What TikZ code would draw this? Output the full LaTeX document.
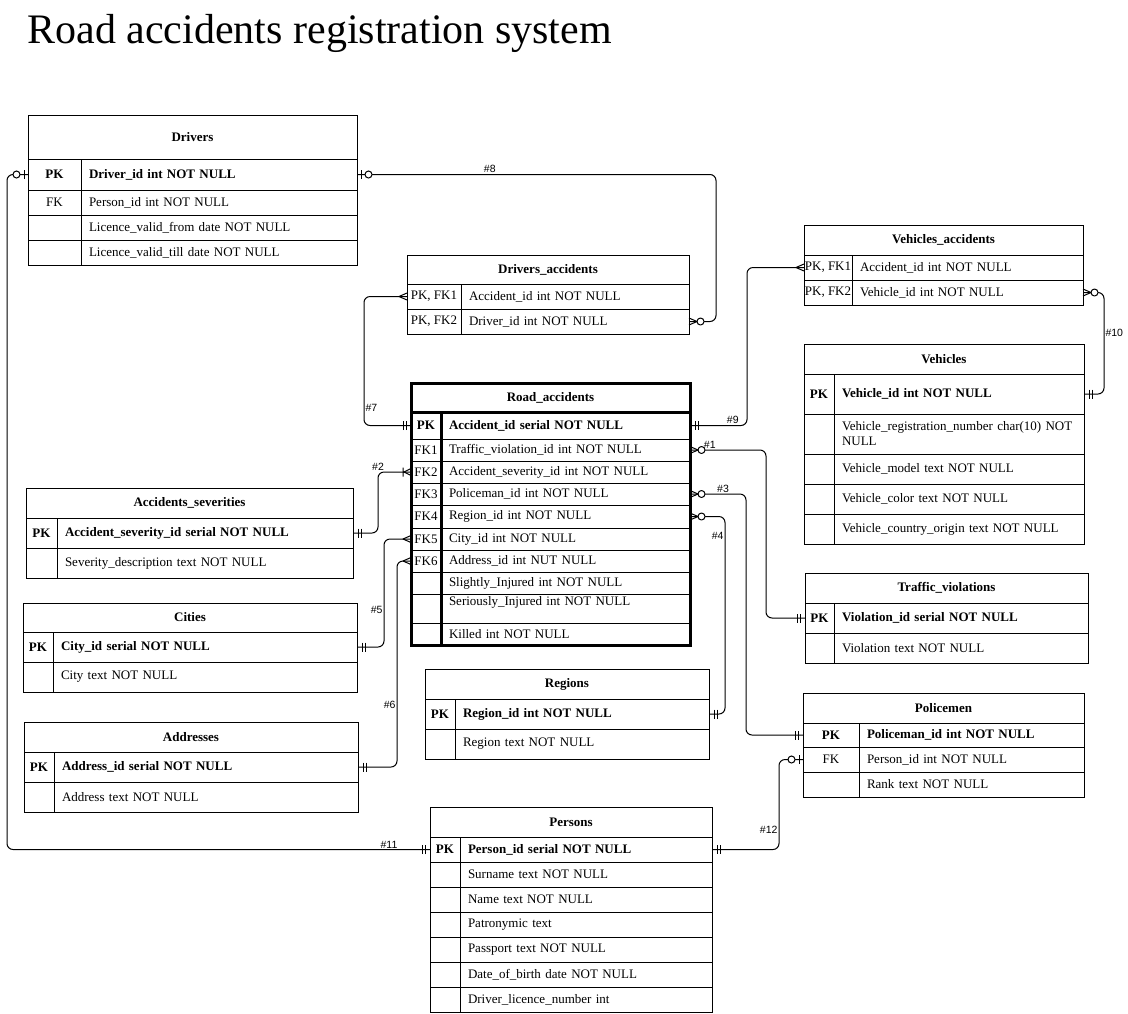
\documentclass[tikz,border=0pt]{standalone}
\usepackage{fontspec}
\setmainfont{Liberation Serif}
\newfontfamily\lblfont{Liberation Sans}
\usetikzlibrary{positioning}

\pgfdeclarearrow{
  name = erOne,
  setup code = {
    \pgfarrowssettipend{0pt}
    \pgfarrowssetlineend{0pt}
    \pgfarrowssetbackend{-10pt}
    \pgfarrowssetvisualbackend{-10pt}
    \pgfarrowshullpoint{0pt}{5pt}
    \pgfarrowshullpoint{-10pt}{5pt}
    \pgfarrowshullpoint{-10pt}{-5pt}
    \pgfarrowshullpoint{0pt}{-5pt}
  },
  drawing code = {
    \pgfpathmoveto{\pgfqpoint{-5pt}{-4.5pt}}
    \pgfpathlineto{\pgfqpoint{-5pt}{4.5pt}}
    \pgfpathmoveto{\pgfqpoint{-8pt}{-4.5pt}}
    \pgfpathlineto{\pgfqpoint{-8pt}{4.5pt}}
    \pgfusepathqstroke
  }
}
\pgfdeclarearrow{
  name = erZeroOne,
  setup code = {
    \pgfarrowssettipend{0pt}
    \pgfarrowssetlineend{0pt}
    \pgfarrowssetbackend{-16pt}
    \pgfarrowssetvisualbackend{-16pt}
    \pgfarrowshullpoint{0pt}{5pt}
    \pgfarrowshullpoint{-16pt}{5pt}
    \pgfarrowshullpoint{-16pt}{-5pt}
    \pgfarrowshullpoint{0pt}{-5pt}
  },
  drawing code = {
    \pgfpathmoveto{\pgfqpoint{-4pt}{-4.5pt}}
    \pgfpathlineto{\pgfqpoint{-4pt}{4.5pt}}
    \pgfusepathqstroke
    \pgfpathcircle{\pgfqpoint{-11.5pt}{0pt}}{3.5pt}
    \pgfsetfillcolor{white}
    \pgfusepathqfillstroke
  }
}
\pgfdeclarearrow{
  name = erMany,
  setup code = {
    \pgfarrowssettipend{0pt}
    \pgfarrowssetlineend{0pt}
    \pgfarrowssetbackend{-8pt}
    \pgfarrowssetvisualbackend{-8pt}
    \pgfarrowshullpoint{0pt}{4pt}
    \pgfarrowshullpoint{-8pt}{0pt}
    \pgfarrowshullpoint{0pt}{-4pt}
  },
  drawing code = {
    \pgfsetroundjoin
    \pgfpathmoveto{\pgfqpoint{0pt}{3.5pt}}
    \pgfpathlineto{\pgfqpoint{-8pt}{0pt}}
    \pgfpathlineto{\pgfqpoint{0pt}{-3.5pt}}
    \pgfusepathqstroke
  }
}
\pgfdeclarearrow{
  name = erZeroMany,
  setup code = {
    \pgfarrowssettipend{0pt}
    \pgfarrowssetlineend{0pt}
    \pgfarrowssetbackend{-16pt}
    \pgfarrowssetvisualbackend{-16pt}
    \pgfarrowshullpoint{0pt}{4pt}
    \pgfarrowshullpoint{-16pt}{4pt}
    \pgfarrowshullpoint{-16pt}{-4pt}
    \pgfarrowshullpoint{0pt}{-4pt}
  },
  drawing code = {
    \pgfsetroundjoin
    \pgfpathmoveto{\pgfqpoint{0pt}{3.5pt}}
    \pgfpathlineto{\pgfqpoint{-8pt}{0pt}}
    \pgfpathlineto{\pgfqpoint{0pt}{-3.5pt}}
    \pgfusepathqstroke
    \pgfpathcircle{\pgfqpoint{-11.5pt}{0pt}}{3.5pt}
    \pgfsetfillcolor{white}
    \pgfusepathqfillstroke
  }
}
\pgfdeclarearrow{
  name = erOneMany,
  setup code = {
    \pgfarrowssettipend{0pt}
    \pgfarrowssetlineend{0pt}
    \pgfarrowssetbackend{-10pt}
    \pgfarrowssetvisualbackend{-10pt}
    \pgfarrowshullpoint{0pt}{5pt}
    \pgfarrowshullpoint{-10pt}{5pt}
    \pgfarrowshullpoint{-10pt}{-5pt}
    \pgfarrowshullpoint{0pt}{-5pt}
  },
  drawing code = {
    \pgfsetroundjoin
    \pgfpathmoveto{\pgfqpoint{0pt}{3.5pt}}
    \pgfpathlineto{\pgfqpoint{-7pt}{0pt}}
    \pgfpathlineto{\pgfqpoint{0pt}{-3.5pt}}
    \pgfpathmoveto{\pgfqpoint{-8pt}{-4.5pt}}
    \pgfpathlineto{\pgfqpoint{-8pt}{4.5pt}}
    \pgfusepathqstroke
  }
}

\tikzset{
  thead/.style={draw, anchor=north west, inner sep=0pt, outer sep=0pt, font=\fontsize{13}{15}\selectfont\bfseries},
  kcell/.style={draw, inner sep=0pt, outer sep=0pt, align=center},
  fcell/.style={draw, inner xsep=8pt, inner ysep=0pt, outer sep=0pt, align=left},
  kc/.style 2 args={kcell, minimum width=#1, minimum height=#2},
  fc/.style 2 args={fcell, text width=#1, minimum height=#2},
  thickb/.style={line width=3pt},
  rel/.style={rounded corners=6pt},
  lbl/.style={font=\lblfont\fontsize{10.5}{12}\selectfont, inner sep=1pt},
}

\begin{document}
\begin{tikzpicture}[x=1pt, y=-1pt, line width=1pt, font=\fontsize{13}{15}\selectfont]
      \useasboundingbox (0,0) rectangle (1128,1013);
      \node[anchor=base west, inner sep=0pt, font=\fontsize{42}{48}\selectfont] (title) at (27,43) {Road accidents registration system};

      \node[thead, minimum width=329pt, minimum height=44pt] (drv) at (28,115) {Drivers};
      \node[kc={53pt}{31pt}, below right=0pt of drv.south west] (drvK1) {\textbf{PK}};
      \node[fc={260pt}{31pt}, right=0pt of drvK1] (drvF1) {\textbf{Driver\_id int NOT NULL}};
      \node[kc={53pt}{25pt}, below=0pt of drvK1] (drvK2) {FK};
      \node[fc={260pt}{25pt}, right=0pt of drvK2] (drvF2) {Person\_id int NOT NULL};
      \node[kc={53pt}{25pt}, below=0pt of drvK2] (drvK3) {};
      \node[fc={260pt}{25pt}, right=0pt of drvK3] (drvF3) {Licence\_valid\_from date NOT NULL};
      \node[kc={53pt}{25pt}, below=0pt of drvK3] (drvK4) {};
      \node[fc={260pt}{25pt}, right=0pt of drvK4] (drvF4) {Licence\_valid\_till date NOT NULL};

      \node[thead, minimum width=282pt, minimum height=29pt] (da) at (407,255) {Drivers\_accidents};
      \node[kc={54pt}{25pt}, below right=0pt of da.south west] (daK1) {PK, FK1};
      \node[fc={212pt}{25pt}, right=0pt of daK1] (daF1) {Accident\_id int NOT NULL};
      \node[kc={54pt}{25pt}, below=0pt of daK1] (daK2) {PK, FK2};
      \node[fc={212pt}{25pt}, right=0pt of daK2] (daF2) {Driver\_id int NOT NULL};

      \node[thead, minimum width=279pt, minimum height=29pt] (ra) at (411,383) {Road\_accidents};
      \node[kc={30pt}{27pt}, below right=0pt of ra.south west] (raK1) {\textbf{PK}};
      \node[fc={233pt}{27pt}, right=0pt of raK1] (raF1) {\textbf{Accident\_id serial NOT NULL}};
      \node[kc={30pt}{22pt}, below=0pt of raK1] (raK2) {FK1};
      \node[fc={233pt}{22pt}, right=0pt of raK2] (raF2) {Traffic\_violation\_id int NOT NULL};
      \node[kc={30pt}{22pt}, below=0pt of raK2] (raK3) {FK2};
      \node[fc={233pt}{22pt}, right=0pt of raK3] (raF3) {Accident\_severity\_id int NOT NULL};
      \node[kc={30pt}{22pt}, below=0pt of raK3] (raK4) {FK3};
      \node[fc={233pt}{22pt}, right=0pt of raK4] (raF4) {Policeman\_id int NOT NULL};
      \node[kc={30pt}{23pt}, below=0pt of raK4] (raK5) {FK4};
      \node[fc={233pt}{23pt}, right=0pt of raK5] (raF5) {Region\_id int NOT NULL};
      \node[kc={30pt}{22pt}, below=0pt of raK5] (raK6) {FK5};
      \node[fc={233pt}{22pt}, right=0pt of raK6] (raF6) {City\_id int NOT NULL};
      \node[kc={30pt}{22pt}, below=0pt of raK6] (raK7) {FK6};
      \node[fc={233pt}{22pt}, right=0pt of raK7] (raF7) {Address\_id int NUT NULL};
      \node[kc={30pt}{22pt}, below=0pt of raK7] (raK8) {};
      \node[fc={233pt}{22pt}, right=0pt of raK8] (raF8) {Slightly\_Injured int NOT NULL};
      \node[kc={30pt}{29pt}, below=0pt of raK8] (raK9) {};
      \node[fc={233pt}{29pt}, text height=11pt, text depth=18pt, right=0pt of raK9] (raF9) {Seriously\_Injured int NOT NULL};
      \node[kc={30pt}{22pt}, below=0pt of raK9] (raK10) {};
      \node[fc={233pt}{22pt}, right=0pt of raK10] (raF10) {Killed int NOT NULL};
      \draw[thickb] (ra.north west) rectangle (raF10.south east);
      \draw[thickb] (ra.south west) -- (ra.south east);
      \draw[thickb] (raK1.north east) -- (raK10.south east);

      \node[thead, minimum width=279pt, minimum height=30pt] (va) at (804,225) {Vehicles\_accidents};
      \node[kc={48pt}{25pt}, below right=0pt of va.south west] (vaK1) {PK, FK1};
      \node[fc={215pt}{25pt}, right=0pt of vaK1] (vaF1) {Accident\_id int NOT NULL};
      \node[kc={48pt}{25pt}, below=0pt of vaK1] (vaK2) {PK, FK2};
      \node[fc={215pt}{25pt}, right=0pt of vaK2] (vaF2) {Vehicle\_id int NOT NULL};

      \node[thead, minimum width=280pt, minimum height=30pt] (vh) at (804,344) {Vehicles};
      \node[kc={30pt}{40pt}, below right=0pt of vh.south west] (vhK1) {\textbf{PK}};
      \node[fc={234pt}{40pt}, right=0pt of vhK1] (vhF1) {\textbf{Vehicle\_id int NOT NULL}};
      \node[kc={30pt}{40pt}, below=0pt of vhK1] (vhK2) {};
      \node[fc={234pt}{40pt}, right=0pt of vhK2] (vhF2) {Vehicle\_registration\_number char(10) NOT\\NULL};
      \node[kc={30pt}{30pt}, below=0pt of vhK2] (vhK3) {};
      \node[fc={234pt}{30pt}, right=0pt of vhK3] (vhF3) {Vehicle\_model text NOT NULL};
      \node[kc={30pt}{30pt}, below=0pt of vhK3] (vhK4) {};
      \node[fc={234pt}{30pt}, right=0pt of vhK4] (vhF4) {Vehicle\_color text NOT NULL};
      \node[kc={30pt}{30pt}, below=0pt of vhK4] (vhK5) {};
      \node[fc={234pt}{30pt}, right=0pt of vhK5] (vhF5) {Vehicle\_country\_origin text NOT NULL};

      \node[thead, minimum width=327pt, minimum height=30pt] (as) at (26,488) {Accidents\_severities};
      \node[kc={31pt}{30pt}, below right=0pt of as.south west] (asK1) {\textbf{PK}};
      \node[fc={280pt}{30pt}, right=0pt of asK1] (asF1) {\textbf{Accident\_severity\_id serial NOT NULL}};
      \node[kc={31pt}{30pt}, below=0pt of asK1] (asK2) {};
      \node[fc={280pt}{30pt}, right=0pt of asK2] (asF2) {Severity\_description text NOT NULL};

      \node[thead, minimum width=334pt, minimum height=29pt] (ct) at (23,603) {Cities};
      \node[kc={30pt}{30pt}, below right=0pt of ct.south west] (ctK1) {\textbf{PK}};
      \node[fc={288pt}{30pt}, right=0pt of ctK1] (ctF1) {\textbf{City\_id serial NOT NULL}};
      \node[kc={30pt}{30pt}, below=0pt of ctK1] (ctK2) {};
      \node[fc={288pt}{30pt}, right=0pt of ctK2] (ctF2) {City text NOT NULL};

      \node[thead, minimum width=334pt, minimum height=30pt] (ad) at (24,722) {Addresses};
      \node[kc={30pt}{30pt}, below right=0pt of ad.south west] (adK1) {\textbf{PK}};
      \node[fc={288pt}{30pt}, right=0pt of adK1] (adF1) {\textbf{Address\_id serial NOT NULL}};
      \node[kc={30pt}{30pt}, below=0pt of adK1] (adK2) {};
      \node[fc={288pt}{30pt}, right=0pt of adK2] (adF2) {Address text NOT NULL};

      \node[thead, minimum width=284pt, minimum height=30pt] (rg) at (425,669) {Regions};
      \node[kc={30pt}{30pt}, below right=0pt of rg.south west] (rgK1) {\textbf{PK}};
      \node[fc={238pt}{30pt}, right=0pt of rgK1] (rgF1) {\textbf{Region\_id int NOT NULL}};
      \node[kc={30pt}{30pt}, below=0pt of rgK1] (rgK2) {};
      \node[fc={238pt}{30pt}, right=0pt of rgK2] (rgF2) {Region text NOT NULL};

      \node[thead, minimum width=283pt, minimum height=30pt] (tv) at (805,573) {Traffic\_violations};
      \node[kc={29pt}{30pt}, below right=0pt of tv.south west] (tvK1) {\textbf{PK}};
      \node[fc={238pt}{30pt}, right=0pt of tvK1] (tvF1) {\textbf{Violation\_id serial NOT NULL}};
      \node[kc={29pt}{30pt}, below=0pt of tvK1] (tvK2) {};
      \node[fc={238pt}{30pt}, right=0pt of tvK2] (tvF2) {Violation text NOT NULL};

      \node[thead, minimum width=281pt, minimum height=30pt] (pm) at (803,693) {Policemen};
      \node[kc={56pt}{24pt}, below right=0pt of pm.south west] (pmK1) {\textbf{PK}};
      \node[fc={209pt}{24pt}, right=0pt of pmK1] (pmF1) {\textbf{Policeman\_id int NOT NULL}};
      \node[kc={56pt}{25pt}, below=0pt of pmK1] (pmK2) {FK};
      \node[fc={209pt}{25pt}, right=0pt of pmK2] (pmF2) {Person\_id int NOT NULL};
      \node[kc={56pt}{25pt}, below=0pt of pmK2] (pmK3) {};
      \node[fc={209pt}{25pt}, right=0pt of pmK3] (pmF3) {Rank text NOT NULL};

      \node[thead, minimum width=282pt, minimum height=30pt] (ps) at (430,807) {Persons};
      \node[kc={30pt}{25pt}, below right=0pt of ps.south west] (psK1) {\textbf{PK}};
      \node[fc={236pt}{25pt}, right=0pt of psK1] (psF1) {\textbf{Person\_id serial NOT NULL}};
      \node[kc={30pt}{25pt}, below=0pt of psK1] (psK2) {};
      \node[fc={236pt}{25pt}, right=0pt of psK2] (psF2) {Surname text NOT NULL};
      \node[kc={30pt}{25pt}, below=0pt of psK2] (psK3) {};
      \node[fc={236pt}{25pt}, right=0pt of psK3] (psF3) {Name text NOT NULL};
      \node[kc={30pt}{25pt}, below=0pt of psK3] (psK4) {};
      \node[fc={236pt}{25pt}, right=0pt of psK4] (psF4) {Patronymic text};
      \node[kc={30pt}{25pt}, below=0pt of psK4] (psK5) {};
      \node[fc={236pt}{25pt}, right=0pt of psK5] (psF5) {Passport text NOT NULL};
      \node[kc={30pt}{25pt}, below=0pt of psK5] (psK6) {};
      \node[fc={236pt}{25pt}, right=0pt of psK6] (psF6) {Date\_of\_birth date NOT NULL};
      \node[kc={30pt}{25pt}, below=0pt of psK6] (psK7) {};
      \node[fc={236pt}{25pt}, right=0pt of psK7] (psF7) {Driver\_licence\_number int};

      \begin{scope}[rel]
        \draw[erZeroMany-erOne] (raF2.east) -- node[lbl, above, pos=0.26] {\#1} ++(76,0) |- (tvK1.west);
        \draw[erOne-erOneMany] (asF1.east) -- ++(25,0) |- node[lbl, above, pos=0.5] {\#2} (raK3.west);
        \draw[erZeroMany-erOne] (raF4.east) -- node[lbl, above, pos=0.59] {\#3} ++(56,0) |- (pmK1.west);
        \draw[erZeroMany-erOne] (raF5.east) -- ++(35,0) |- node[lbl, left, pos=0.05] {\#4} (rgF1.east);
        \draw[erOne-erMany] (ctF1.east) -- ++(27,0) |- node[lbl, left, pos=0.17] {\#5} (raK6.west);
        \draw[erOne-erMany] (adF1.east) -- ++(39,0) |- node[lbl, left, pos=0.15] {\#6} (raK7.west);
        \draw[erMany-erOne] (daK1.west) -- ++(-43,0) |- node[lbl, right, pos=0.43] {\#7} (raK1.west);
        \draw[erZeroOne-erZeroMany] (drvF1.east) -- node[lbl, above, pos=0.37] {\#8} ++(359,0) |- (daF2.east);
        \draw[erOne-erMany] (raF1.east) -- node[lbl, above, pos=0.75] {\#9} ++(57,0) |- (vaK1.west);
        \draw[erZeroMany-erOne] (vaF2.east) -- ++(21,0) |- node[lbl, right, pos=0.2] {\#10} (vhF1.east);
        \draw[erOne-erZeroOne] (psK1.west) -- node[lbl, above, pos=0.097] {\#11} ++(-423,0) |- (drvK1.west);
        \draw[erOne-erZeroOne] (psF1.east) -- ++(67,0) |- node[lbl, left, pos=0.11] {\#12} (pmK2.west);
      \end{scope}
    \end{tikzpicture}
\end{document}
